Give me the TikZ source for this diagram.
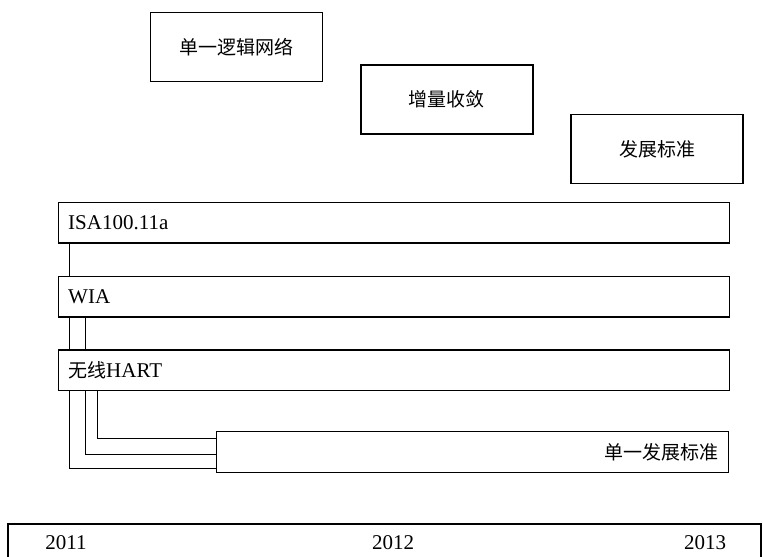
\documentclass[tikz,border=0pt]{standalone}
\usepackage{fontspec}
\setmainfont{Liberation Serif}
\newfontfamily\cjk{Noto Sans CJK SC}
\usetikzlibrary{backgrounds}
\begin{document}
\begin{tikzpicture}[x=1bp,y=-1bp,
  box/.style={draw,line width=1.5bp,fill=white,inner sep=0pt,
    font=\fontsize{21bp}{25bp}\selectfont},
  phase/.style={box,minimum width=172bp,minimum height=69bp,
    font=\cjk\fontsize{19bp}{23bp}\selectfont},
  lane/.style={box,minimum width=671bp,minimum height=40.3bp},
  lbl/.style={anchor=west,inner sep=0pt,font=\fontsize{21bp}{25bp}\selectfont},
  yr/.style={inner sep=0pt,font=\fontsize{21bp}{25bp}\selectfont},
  link/.style={draw,line width=1bp}]
\useasboundingbox (0,0) rectangle (763,557);
% phase boxes
\node[phase] (p1) at (236.7,47.2) {单一逻辑网络};
\node[phase] (p2) at (446.8,99.3) {增量收敛};
\node[phase] (p3) at (657,149.2) {发展标准};
% lanes
\node[lane] (isa)  at (393.8,222.8) {};
\node[lane] (wia)  at (393.8,296.7) {};
\node[lane] (hart) at (393.8,370.3) {};
\node[box,minimum width=511.6bp,minimum height=41bp] (one) at (472.5,452.2) {};
\node[lbl] (tisa)  at (68,223) {ISA100.11a};
\node[lbl] (twia)  at (68,297) {WIA};
\node[lbl] (thart) at (68,370.5) {{\cjk\fontsize{19bp}{23bp}\selectfont 无线}HART};
\node[inner sep=0pt,anchor=east,font=\cjk\fontsize{19bp}{23bp}\selectfont] (tone) at (719,452) {单一发展标准};
% connectors
\begin{scope}[on background layer]
\draw[link] ([xshift=11.7bp]isa.south west) |- ([yshift=-16.1bp]one.west);
\draw[link] ([xshift=27.7bp]wia.south west) |- ([yshift=-1.8bp]one.west);
\draw[link] ([xshift=40bp]hart.south west) |- ([yshift=13.9bp]one.west);
\end{scope}
% timeline
\node[box,minimum width=753bp,minimum height=50bp,anchor=north west] (tl) at (7.3,523.3) {};
\node[yr] (y1) at (66,543) {2011};
\node[yr] (y2) at (393,543) {2012};
\node[yr] (y3) at (705,543) {2013};
\end{tikzpicture}
\end{document}
